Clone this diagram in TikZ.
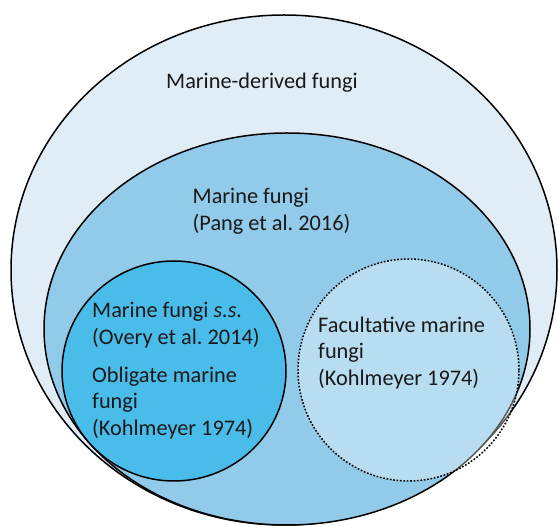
\documentclass[tikz,border=0pt]{standalone}
\usepackage{fontspec}
\setmainfont{Carlito}
\frenchspacing
\usepackage{tikz}
\usetikzlibrary{shapes,positioning}
\definecolor{derivedblue}{RGB}{224,236,246}
\definecolor{marineblue}{RGB}{146,203,234}
\definecolor{ssblue}{RGB}{74,188,234}

\begin{document}
\begin{tikzpicture}[x=1pt, y=-1pt,
      every node/.append style={inner sep=0pt},
      group/.style={ellipse, draw=black, line width=1.5pt},
      txt/.style={anchor=base west, text=black!90, font=\fontsize{22.3}{26.7}\selectfont}]
    \useasboundingbox (0,0) rectangle (558,526);
    \node (derived) [group, fill=derivedblue, minimum width=546pt, minimum height=510pt] at (284,270) {};
    \node (marine) [group, fill=marineblue, minimum width=486pt, minimum height=392pt] at (287,329) {};
    \node (obligate) [group, fill=ssblue, minimum width=224pt, minimum height=220pt] at (174,371) {};
    \node (facultative) [group, fill=white, fill opacity=0.35, dash pattern=on 1.7pt off 1.7pt,
      minimum width=221pt, minimum height=222pt] at (408.5,370) {};
    \node (derivedname) [txt] at (166,89) {Marine-derived fungi};
    \node (marinename) [txt] at (192.5,204) {Marine fungi};
    \node (pang) [txt] at (192.5,231) {(Pang et al. 2016)};
    \node (ssname) [txt] at (92,318) {Marine fungi \textit{s.s.}};
    \node (overy) [txt] at (92,345) {(Overy et al. 2014)};
    \node (obligname) [txt] at (92,383) {Obligate marine};
    \node (obligfungi) [txt] at (92,409) {fungi};
    \node (kohlobl) [txt] at (92,436) {(Kohlmeyer 1974)};
    \node (factname) [txt] at (318,333) {Facultative marine};
    \node (factfungi) [txt] at (318,359) {fungi};
    \node (kohlfac) [txt] at (318,386) {(Kohlmeyer 1974)};
  \end{tikzpicture}
\end{document}
